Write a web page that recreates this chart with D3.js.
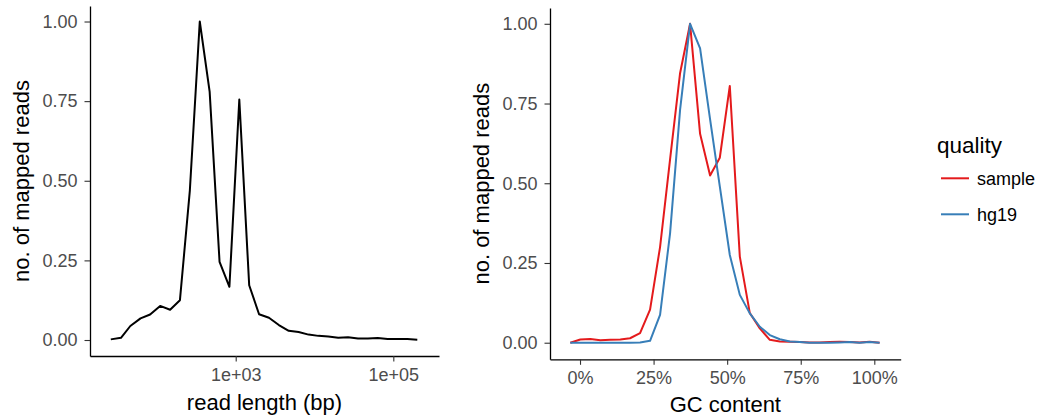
<!DOCTYPE html>
<html>
<head>
<meta charset="utf-8">
<script src="https://cdn.jsdelivr.net/npm/d3@7"></script>
<style>
  html, body { margin: 0; padding: 0; background: #fff; }
  svg { display: block; }
  text { font-family: "Liberation Sans", Arial, Helvetica, sans-serif; }
</style>
</head>
<body>
<svg id="chart" width="1038" height="420"></svg>
<script>
// ---- data ----
const readLength = [26, 35, 46, 62, 82, 110, 147, 196, 262, 350, 467, 624, 832, 1111, 1483, 1980,
  2643, 3529, 4711, 6289, 8397, 11210, 14966, 19980, 26673, 35609, 47538, 63463, 84724, 113108, 151000, 201584];
const readCounts = [0.002, 0.007, 0.044, 0.068, 0.080, 0.107, 0.095, 0.125, 0.470, 1.000, 0.780, 0.245,
  0.167, 0.755, 0.172, 0.081, 0.070, 0.047, 0.029, 0.025, 0.017, 0.013, 0.011, 0.007, 0.009, 0.005,
  0.005, 0.006, 0.003, 0.003, 0.003, 0.001];

const gcContent = [-0.033, 0.001, 0.035, 0.069, 0.103, 0.137, 0.170, 0.204, 0.238, 0.272, 0.306, 0.340,
  0.374, 0.408, 0.442, 0.475, 0.509, 0.543, 0.577, 0.611, 0.645, 0.679, 0.713, 0.747, 0.780, 0.814,
  0.848, 0.882, 0.916, 0.950, 0.984, 1.018];
const gcSample = [0.000, 0.010, 0.012, 0.008, 0.009, 0.010, 0.014, 0.030, 0.104, 0.300, 0.575, 0.845,
  1.000, 0.655, 0.524, 0.580, 0.805, 0.270, 0.093, 0.045, 0.009, 0.004, 0.003, 0.002, 0.001, 0.001,
  0.002, 0.003, 0.002, 0.001, 0.003, 0.000];
const gcHg19 = [0.000, 0.000, 0.000, 0.000, 0.000, 0.000, 0.000, 0.001, 0.006, 0.087, 0.343, 0.730,
  1.000, 0.923, 0.700, 0.490, 0.275, 0.150, 0.092, 0.050, 0.024, 0.011, 0.004, 0.002, 0.000, 0.000,
  0.000, 0.001, 0.002, 0.000, 0.002, 0.000];

const seriesNames = ["sample", "hg19"];
const seriesColors = ["#E41A1C", "#377EB8"];

const yTicks = [0, 0.25, 0.5, 0.75, 1];
const yTickLabels = ["0.00", "0.25", "0.50", "0.75", "1.00"];
const lenTicks = [1000, 100000];
const lenTickLabels = ["1e+03", "1e+05"];
const gcTicks = [0, 0.25, 0.5, 0.75, 1];
const gcTickLabels = ["0%", "25%", "50%", "75%", "100%"];

const yTitle = "no. of mapped reads";
const xTitleLeft = "read length (bp)";
const xTitleRight = "GC content";
const legendTitle = "quality";

// ---- drawing ----
const svg = d3.select("#chart");
const tickColor = "#333333";
const labelColor = "#4D4D4D";

function drawPanel(opt) {
  const g = svg.append("g");
  const x = opt.x, y = opt.y;
  const [x0, x1] = x.range();
  const [yb, yt] = y.range();

  const yAxis = d3.axisLeft(y).tickValues(yTicks)
    .tickFormat((d, i) => yTickLabels[i]).tickSize(5.5).tickSizeOuter(0).tickPadding(7);
  const gy = g.append("g").attr("transform", `translate(${x0},0)`).call(yAxis);

  const xAxis = d3.axisBottom(x).tickValues(opt.xTicks)
    .tickFormat((d, i) => opt.xTickLabels[i]).tickSize(5.5).tickSizeOuter(0).tickPadding(6.5);
  const gx = g.append("g").attr("transform", `translate(0,${yb})`).call(xAxis);

  [gx, gy].forEach(a => {
    a.select(".domain").attr("stroke", "#000").attr("stroke-width", 1.3);
    a.selectAll(".tick line").attr("stroke", tickColor).attr("stroke-width", 1.1);
    a.selectAll(".tick text").attr("fill", labelColor).style("font-size", "18px")
      .style("font-family", '"Liberation Sans", Arial, Helvetica, sans-serif');
  });

  // y title
  g.append("text")
    .attr("transform", `translate(${opt.yTitleX},${(yb + yt) / 2}) rotate(-90)`)
    .attr("text-anchor", "middle")
    .style("font-size", "22px").attr("fill", "#000")
    .text(yTitle);
  // x title
  g.append("text")
    .attr("x", (x0 + x1) / 2).attr("y", opt.xTitleY)
    .attr("text-anchor", "middle")
    .style("font-size", "22px").attr("fill", "#000")
    .text(opt.xTitle);

  const line = d3.line().x(d => x(d[0])).y(d => y(d[1]));
  opt.series.forEach(s => {
    g.append("path")
      .datum(s.xs.map((v, i) => [v, s.ys[i]]))
      .attr("fill", "none")
      .attr("stroke", s.color)
      .attr("stroke-width", 2)
      .attr("stroke-linejoin", "round")
      .attr("d", line);
  });
}

// left panel: read length (log scale)
const xLen = d3.scaleLog().domain([14.16, 380000]).range([90, 439]);
const yLeft = d3.scaleLinear().domain([-0.0502, 1.0487]).range([356, 6]);
drawPanel({
  x: xLen, y: yLeft,
  xTicks: lenTicks, xTickLabels: lenTickLabels,
  xTitle: xTitleLeft, xTitleY: 410, yTitleX: 29,
  series: [{ xs: readLength, ys: readCounts, color: "#000000" }]
});

// right panel: GC content
const xGC = d3.scaleLinear().domain([-0.102, 1.0897]).range([550, 900.7]);
const yRight = d3.scaleLinear().domain([-0.052, 1.0495]).range([359.3, 8]);
drawPanel({
  x: xGC, y: yRight,
  xTicks: gcTicks, xTickLabels: gcTickLabels,
  xTitle: xTitleRight, xTitleY: 412, yTitleX: 488.5,
  series: [
    { xs: gcContent, ys: gcSample, color: seriesColors[0] },
    { xs: gcContent, ys: gcHg19, color: seriesColors[1] }
  ]
});

// legend
const lg = svg.append("g").attr("transform", "translate(937,0)");
lg.append("text").attr("x", 0).attr("y", 153)
  .style("font-size", "22.5px").attr("fill", "#000").text(legendTitle);
const keyY = d3.scalePoint().domain(seriesNames).range([178.3, 214.3]);
seriesNames.forEach((name, i) => {
  const yy = keyY(name);
  lg.append("line").attr("x1", 4).attr("x2", 32).attr("y1", yy).attr("y2", yy)
    .attr("stroke", seriesColors[i]).attr("stroke-width", 2);
  lg.append("text").attr("x", 40).attr("y", yy).attr("dy", "0.35em")
    .style("font-size", "18px").attr("fill", "#000").text(name);
});
</script>
</body>
</html>
